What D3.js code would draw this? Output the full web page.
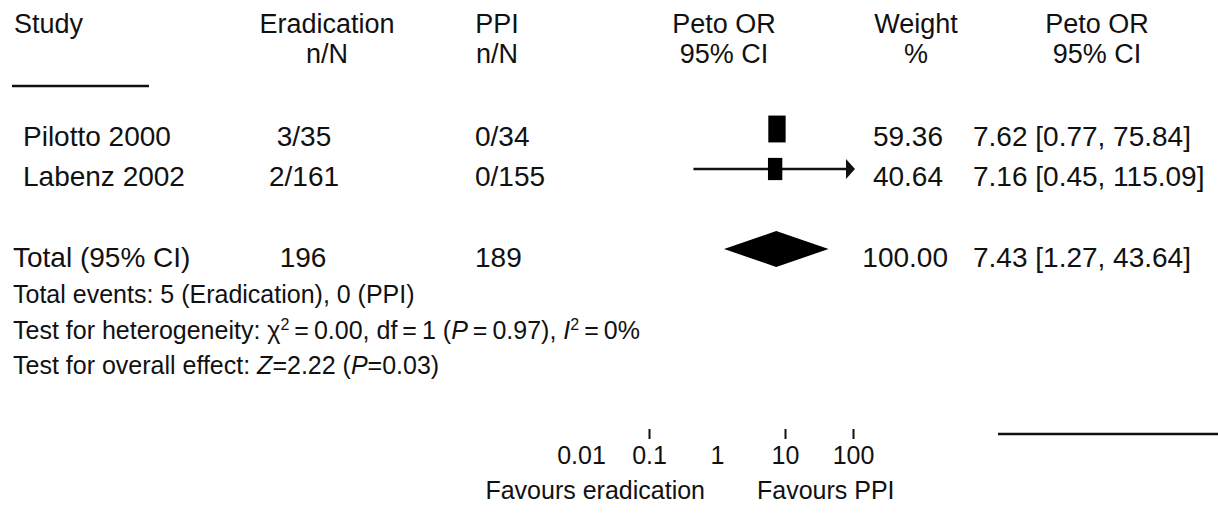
<!DOCTYPE html>
<html>
<head>
<meta charset="utf-8">
<script src="https://cdn.jsdelivr.net/npm/d3@7"></script>
<style>
  body { margin: 0; background: #fff; }
  text { font-family: 'Liberation Sans', Arial, sans-serif; fill: #111; }
</style>
</head>
<body>
<svg id="forest"></svg>
<script>
// study rows
const studies = ['Pilotto 2000', 'Labenz 2002'];
const eradication = ['3/35', '2/161'];
const ppi = ['0/34', '0/155'];
const oddsRatio = [7.62, 7.16];
const ciLower = [0.77, 0.45];
const ciUpper = [75.84, 115.09];
const weights = [59.36, 40.64];

// pooled row
const totalLabels = ['Total (95% CI)', '196', '189'];
const totalOR = [7.43, 1.27, 43.64]; // estimate, lower, upper
const totalWeight = 100.0;

const tickLabels = [0.01, 0.1, 1, 10, 100];
const tickMarks = [0.1, 10, 100];
const footer = ['Total events: 5 (Eradication), 0 (PPI)'];

const W = 1218, H = 518;
const svg = d3.select('#forest').attr('width', W).attr('height', H);

const x = d3.scaleLog().domain([0.01, 100]).range([581, 853]);
const y = d3.scalePoint()
  .domain([...studies, 'gap', 'Total'])
  .range([129, 249]);

const fmt2 = d3.format('.2f');
const orText = (o, l, u) => `${fmt2(o)} [${fmt2(l)}, ${fmt2(u)}]`;

// header
const head = svg.append('g').style('font-size', '27px');
head.append('text').attr('x', 14).attr('y', 33).text('Study');
const headCols = [
  { x: 327, a: 'Eradication', b: 'n/N', anchor: 'middle' },
  { x: 497, a: 'PPI', b: 'n/N', anchor: 'middle' },
  { x: 724, a: 'Peto OR', b: '95% CI', anchor: 'middle' },
  { x: 916, a: 'Weight', b: '%', anchor: 'middle' },
  { x: 1097, a: 'Peto OR', b: '95% CI', anchor: 'middle' },
];
headCols.forEach(c => {
  head.append('text').attr('x', c.x).attr('y', 33).attr('text-anchor', c.anchor).text(c.a);
  head.append('text').attr('x', c.x).attr('y', 63).attr('text-anchor', c.anchor).text(c.b);
});
svg.append('line').attr('x1', 12).attr('x2', 149).attr('y1', 86).attr('y2', 86)
  .attr('stroke', '#111').attr('stroke-width', 2.5);

// study rows text
const rows = svg.append('g').style('font-size', '28px');
studies.forEach((s, i) => {
  const yy = y(s) + 17;
  rows.append('text').attr('x', 23).attr('y', yy).text(s);
  rows.append('text').attr('x', 304).attr('y', yy).attr('text-anchor', 'middle').text(eradication[i]);
  rows.append('text').attr('x', 475).attr('y', yy).text(ppi[i]);
  rows.append('text').attr('x', 943).attr('y', yy).attr('text-anchor', 'end').text(fmt2(weights[i]));
  rows.append('text').attr('x', 973).attr('y', yy).text(orText(oddsRatio[i], ciLower[i], ciUpper[i]));
});
const ty = y('Total') + 18;
rows.append('text').attr('x', 13).attr('y', ty).text(totalLabels[0]);
rows.append('text').attr('x', 303).attr('y', ty).attr('text-anchor', 'middle').text(totalLabels[1]);
rows.append('text').attr('x', 475).attr('y', ty).text(totalLabels[2]);
rows.append('text').attr('x', 948).attr('y', ty).attr('text-anchor', 'end').text(fmt2(totalWeight));
rows.append('text').attr('x', 973).attr('y', ty).text(orText(...totalOR));

// markers, box area follows the weight
const side = d3.scaleSqrt().domain([0, 100]).range([0, 22.5]);
const plot = svg.append('g');
studies.forEach((s, i) => {
  const cy = y(s);
  // the scan only shows the CI line for studies that run past the axis
  if (ciUpper[i] > x.domain()[1]) {
    const x0 = x(ciLower[i]), x1 = x(x.domain()[1]);
    plot.append('line').attr('x1', x0).attr('x2', x1 - 4).attr('y1', cy).attr('y2', cy)
      .attr('stroke', '#111').attr('stroke-width', 2.5);
    plot.append('path')
      .attr('d', d3.line()([[x1 - 7, cy - 10], [x1 + 2, cy], [x1 - 7, cy + 10]]) + 'Z')
      .attr('fill', '#111');
  }
  const w = side(weights[i]) * 1.0, h = side(weights[i]) * 1.55;
  plot.append('rect')
    .attr('x', x(oddsRatio[i]) - w / 2).attr('y', cy - h / 2)
    .attr('width', w).attr('height', h).attr('fill', '#000');
});
const dy = y('Total');
plot.append('path')
  .attr('d', d3.line()([
    [x(totalOR[1]), dy], [x(totalOR[0]), dy - 18],
    [x(totalOR[2]), dy], [x(totalOR[0]), dy + 18]
  ]) + 'Z')
  .attr('fill', '#000');

// footer notes
const th = '\u2009';
const foot = svg.append('g').style('font-size', '25px');
foot.append('text').attr('x', 13).attr('y', 303).text(footer[0]);
const het = foot.append('text').attr('x', 13).attr('y', 339);
het.append('tspan').text('Test for heterogeneity: ');
het.append('tspan').text('χ');
het.append('tspan').attr('dy', -9).style('font-size', '16px').text('2');
het.append('tspan').attr('dy', 9).text(`${th}=${th}0.00, df${th}=${th}1 (`);
het.append('tspan').style('font-style', 'italic').text('P');
het.append('tspan').text(`${th}=${th}0.97), `);
het.append('tspan').style('font-style', 'italic').text('I');
het.append('tspan').attr('dy', -9).style('font-size', '16px').text('2');
het.append('tspan').attr('dy', 9).text(`${th}=${th}0%`);
const ov = foot.append('text').attr('x', 13).attr('y', 374);
ov.append('tspan').text('Test for overall effect: ');
ov.append('tspan').style('font-style', 'italic').text('Z');
ov.append('tspan').text('=2.22 (');
ov.append('tspan').style('font-style', 'italic').text('P');
ov.append('tspan').text('=0.03)');

// axis: the scan keeps tick marks only at some values, labels at all
const tickY = 429;
const ticks = svg.append('g').attr('transform', `translate(0,${tickY})`)
  .call(d3.axisBottom(x).tickValues(tickMarks).tickSize(10).tickFormat(''));
ticks.select('.domain').remove();
ticks.selectAll('line').attr('stroke', '#111').attr('stroke-width', 2);

const labels = svg.append('g').attr('transform', 'translate(0,446)')
  .call(d3.axisBottom(x).tickValues(tickLabels).tickSize(0).tickPadding(0).tickFormat(d => String(d)));
labels.select('.domain').remove();
labels.selectAll('text').style('font-size', '25px').style('font-family', "'Liberation Sans', Arial, sans-serif")
  .attr('fill', '#111');

svg.append('line').attr('x1', 998).attr('x2', W).attr('y1', 434).attr('y2', 434)
  .attr('stroke', '#111').attr('stroke-width', 2.5);

svg.append('text').attr('x', x(1) - 12).attr('y', 499).attr('text-anchor', 'end')
  .style('font-size', '25px').text('Favours eradication');
svg.append('text').attr('x', x(1) + 40).attr('y', 499)
  .style('font-size', '25px').text('Favours PPI');
</script>
</body>
</html>
